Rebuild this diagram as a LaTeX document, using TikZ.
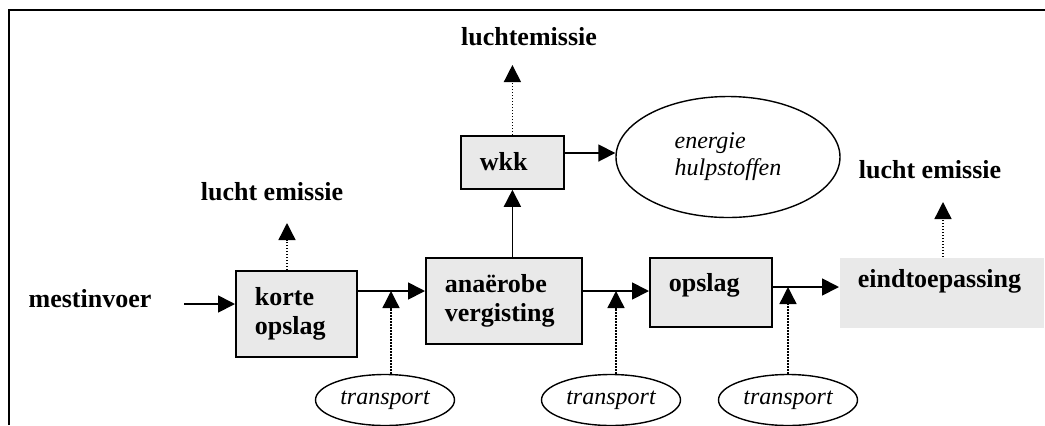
\documentclass[tikz,border=0pt]{standalone}
\usepackage{fontspec}
\setmainfont{Liberation Serif}
\usetikzlibrary{positioning,arrows.meta,shapes.geometric}

\begin{document}
\begin{tikzpicture}[x=0.5pt, y=-0.5pt,
  box/.style={draw, line width=0.9pt, fill=gray!17, anchor=north west, align=left,
    font=\fontsize{13}{14.8}\selectfont\bfseries, inner xsep=9.5pt, inner ysep=0pt},
  lbl/.style={anchor=base, inner sep=0pt, font=\fontsize{13}{15}\selectfont\bfseries},
  oval/.style={draw, ellipse, line width=0.7pt, inner sep=0pt, align=left,
    font=\fontsize{12}{13.5}\selectfont\itshape},
  flow/.style={line width=0.9pt, -{Triangle[length=8.5pt,width=8.5pt]}},
  dotflow/.style={line width=0.7pt, dash pattern=on 0.7pt off 0.8pt,
    -{Triangle[length=8.5pt,width=8.5pt]}}]

\useasboundingbox (0,0) rectangle (1045,425);
\draw[line width=1.1pt] (9,425) -- (9,10) -- (1045,10);

\coordinate(fa) at (0,291);
\coordinate(fb) at (0,287);
\coordinate(fc) at (0,153);
\coordinate(in) at (184,304);
\coordinate(e0) at (512,65);
\coordinate(e1) at (287,223);
\coordinate(e2) at (943,202);
\coordinate(t1) at (391,291);
\coordinate(t2) at (616,291);
\coordinate(t3) at (788,287);

\node(korte) [box, text width=41.5pt, minimum height=43pt] at (235,270) {korte\\opslag};
\node(anae) [box, text width=59pt, minimum height=43pt] at (425,257) {anaërobe\\vergisting};
\node(opslag) [box, text width=42pt, text height=17pt, text depth=17.5pt] at (649,257) {opslag};
\node(eind) [box, draw=none, text width=84pt, inner xsep=9pt, text height=15pt, text depth=20pt] at (839,257) {eindtoepassing};
\node(wkk) [box, text width=32.5pt, text height=17.5pt, text depth=9pt] at (460,135) {wkk};

\node(ener) [oval, minimum width=112pt, minimum height=60.5pt] at (728,157) {energie\\hulpstoffen};
\node(tr1) [oval, minimum width=69.5pt, minimum height=25.5pt] at (385,400) {transport};
\node(tr2) [oval, minimum width=69.5pt, minimum height=25.5pt] at (611,400) {transport};
\node(tr3) [oval, minimum width=69.5pt, minimum height=25.5pt] at (788,400) {transport};

\node(mest) [lbl] at (90,307) {mestinvoer};
\node(lucht0) [lbl] at (529,45) {luchtemissie};
\node(lucht1) [lbl] at (272,200) {lucht emissie};
\node(lucht2) [lbl] at (930,178) {lucht emissie};

\draw[flow] (in) -- (in -| korte.west);
\draw[flow] (korte.east |- fa) -- (anae.west |- fa);
\draw[flow] (anae.east |- fa) -- (opslag.west |- fa);
\draw[flow] (opslag.east |- fb) -- (eind.west |- fb);
\draw[flow] (anae.north -| wkk.south) -- (wkk.south);
\draw[flow] (wkk.east |- fc) -- (ener.west |- fc);

\draw[dotflow] (wkk.north) -- (wkk.north |- e0);
\draw[dotflow] (korte.north -| e1) -- (e1);
\draw[dotflow] (eind.north -| e2) -- (e2);
\draw[dotflow] (tr1.north -| t1) -- (t1);
\draw[dotflow] (tr2.north -| t2) -- (t2);
\draw[dotflow] (tr3.north -| t3) -- (t3);

\end{tikzpicture}
\end{document}
